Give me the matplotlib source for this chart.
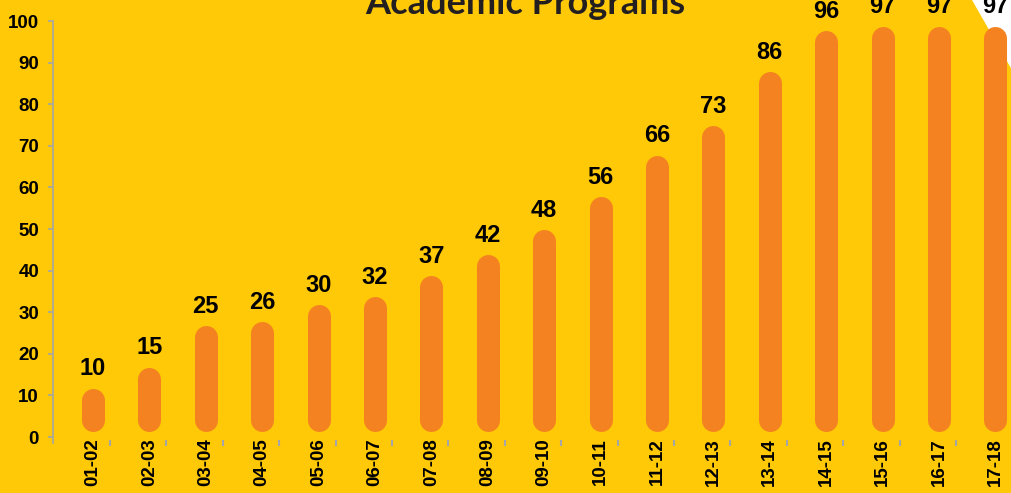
import numpy as np
import matplotlib.pyplot as plt
from matplotlib.patches import Polygon

years = ["01-02", "02-03", "03-04", "04-05", "05-06", "06-07", "07-08", "08-09",
         "09-10", "10-11", "11-12", "12-13", "13-14", "14-15", "15-16", "16-17", "17-18"]
programs = [10, 15, 25, 26, 30, 32, 37, 42, 48, 56, 66, 73, 86, 96, 97, 97, 97]

yellow = "#FFC907"
orange = "#F58220"
gray = "#A6A6A6"

plt.rcParams.update({
    "font.family": ["Liberation Sans", "DejaVu Sans"],
    "font.weight": "bold",
})

fig = plt.figure(figsize=(10.12, 4.93), dpi=100, facecolor=yellow)

# white corner shape top right
W, H = 1012, 493
fig.patches.append(Polygon([(972 / W, 1), (1, 1 - 70 / H), (1, 1)],
                           closed=True, transform=fig.transFigure,
                           facecolor="white", edgecolor="none", zorder=-5))

# axes: left spine at x=53 px, value 0 at y=437, 100 at y=21
ymin, ymax = -1.4, 100
ppu = (437 - 21) / 100
ax = fig.add_axes([53 / W, (H - 437 - (-ymin) * ppu) / H, (W - 53) / W,
                   (ymax - ymin) * ppu / H])
ax.set_facecolor("none")

x = np.arange(len(years))
for xi, v in zip(x, programs):
    ax.plot([xi, xi], [4.0, v - 1.0], color=orange, linewidth=16.6,
            solid_capstyle="round", zorder=3)
    ax.annotate(str(v), (xi, v), xytext=(0, 14.5), textcoords="offset points",
                ha="center", va="baseline", fontsize=17, fontweight="bold",
                color="black")

spacing = 56.4
ax.set_xlim(-40 / spacing, -40 / spacing + (W - 53) / spacing)
ax.set_ylim(ymin, ymax)

for s in ["top", "right", "bottom"]:
    ax.spines[s].set_visible(False)
ax.spines["left"].set_color(gray)
ax.spines["left"].set_linewidth(1.2)

ax.set_yticks(np.arange(0, 101, 10))
ax.tick_params(axis="y", colors=gray, length=3.5, width=1.2, pad=6.5,
               labelcolor="black", labelsize=13.5)
ax.set_xticks(x)
ax.set_xticklabels(years, rotation=90, fontsize=13.5, fontweight="bold")
ax.tick_params(axis="x", length=0, pad=-3.5, labelcolor="black")
ax.set_xticks(x[:-1] + 0.3, minor=True)
ax.tick_params(axis="x", which="minor", colors=gray, length=4, width=1.5,
               direction="inout")
for lab in ax.get_yticklabels():
    lab.set_fontweight("bold")

fig.text(525 / W, 1 - 14 / H, "Academic Programs", ha="center", va="baseline",
         fontsize=26, fontweight="bold", color="#231F20",
         family=["Lato", "DejaVu Sans"])

fig.savefig("out.png", dpi=100, facecolor=yellow)
